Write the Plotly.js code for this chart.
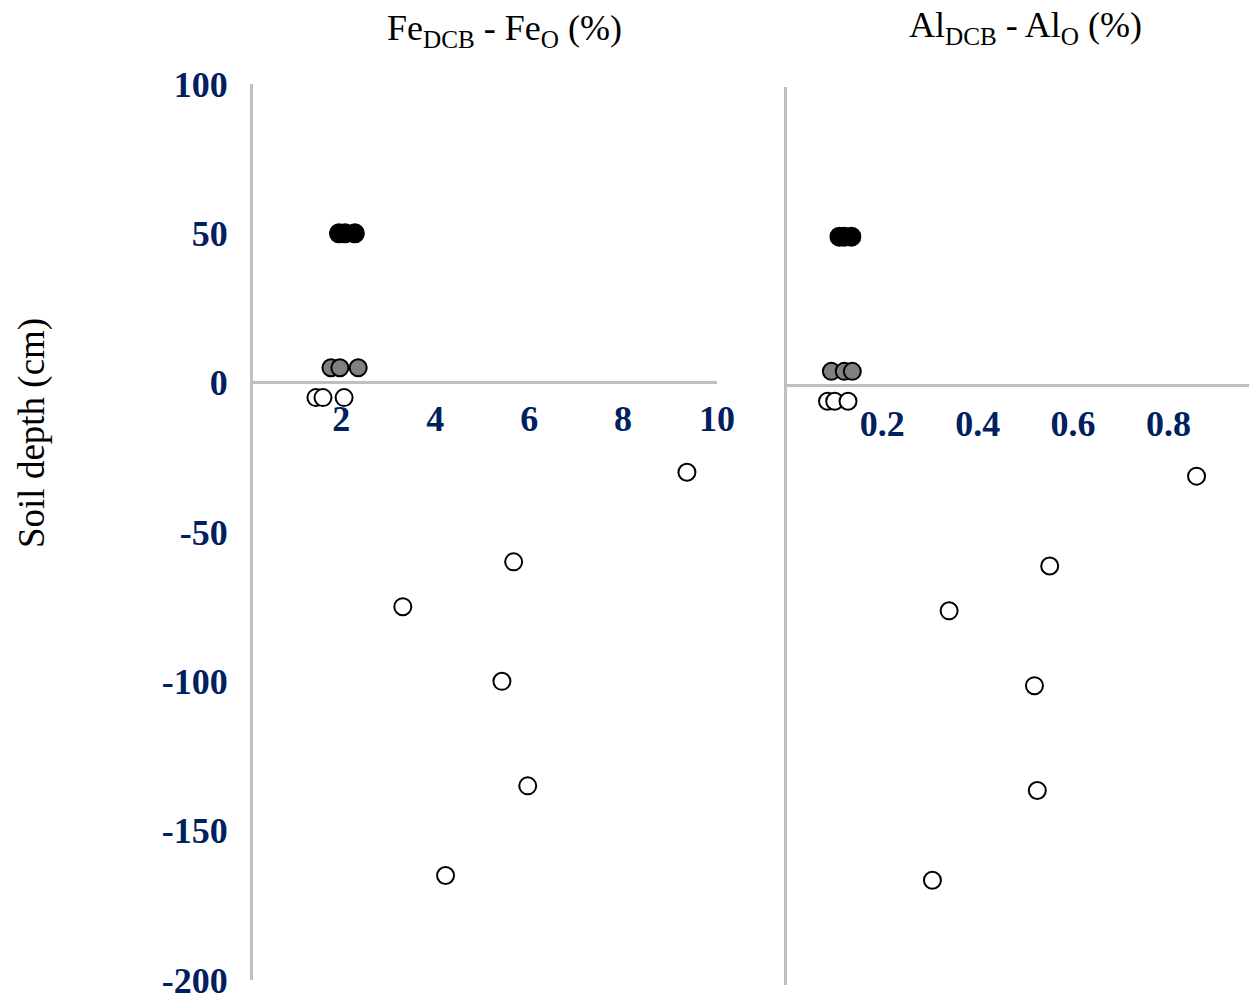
<!DOCTYPE html>
<html>
<head>
<meta charset="utf-8">
<script src="https://cdn.plot.ly/plotly-3.0.1.min.js"></script>
<style>html,body{margin:0;padding:0;background:#fff;}#chart{width:1249px;height:1002px;}</style>
</head>
<body>
<div id="chart"></div>
<script>
// Depths (cm)
const depthTop = [50, 50, 50];
const depthMid = [5, 5, 5];
const depthLow = [-5, -5, -5, -30, -60, -75, -100, -135, -165];

// Fe_DCB - Fe_O (%)
const feTop = [1.95, 2.08, 2.29];
const feMid = [1.78, 1.97, 2.36];
const feLow = [1.46, 1.61, 2.06, 9.36, 5.67, 3.31, 5.42, 5.97, 4.22];

// Al_DCB - Al_O (%)
const alTop = [0.11, 0.12, 0.135];
const alMid = [0.093, 0.12, 0.137];
const alLow = [0.085, 0.10, 0.128, 0.859, 0.551, 0.340, 0.519, 0.525, 0.305];

// Tick labels
const yTicks = [-200, -150, -100, -50, 0, 50, 100];
const yTickText = ['-200', '-150', '-100', '-50', '0', '50', '100'];
const feTicks = [2, 4, 6, 8, 10];
const alTicks = [0.2, 0.4, 0.6, 0.8];
const alTickText = ['0.2', '0.4', '0.6', '0.8'];

const W = 1249, H = 1002;
const px = v => v / W;
const py = v => (H - v) / H;

function mk(x, y, xa, ya, fill, size) {
  return {
    x: x, y: y, xaxis: xa, yaxis: ya, type: 'scatter', mode: 'markers',
    showlegend: false, hoverinfo: 'x+y', cliponaxis: false,
    marker: {symbol: 'circle', size: size, color: fill, line: {color: '#000', width: 2}}
  };
}

const data = [
  mk(feTop, depthTop, 'x', 'y', '#000000', 18),
  mk(feMid, depthMid, 'x', 'y', '#808080', 17),
  mk(feLow, depthLow, 'x', 'y', '#ffffff', 17),
  mk(alTop, depthTop, 'x2', 'y2', '#000000', 18),
  mk(alMid, depthMid, 'x2', 'y2', '#808080', 17),
  mk(alLow, depthLow, 'x2', 'y2', '#ffffff', 17)
];

const serif = 'Liberation Serif, Times New Roman, serif';
const tickFont = {family: serif, size: 36, color: '#002060', weight: 'bold'};
const lineCol = '#bfbfbf';

const layout = {
  width: W, height: H,
  margin: {l: 0, r: 0, t: 0, b: 0, pad: 0},
  paper_bgcolor: '#ffffff', plot_bgcolor: 'rgba(0,0,0,0)',
  showlegend: false,
  xaxis: {
    domain: [px(253), px(717)], range: [0.12, 10.0],
    anchor: 'free', position: py(382),
    showline: true, linecolor: lineCol, linewidth: 3,
    showgrid: false, zeroline: false,
    tickmode: 'array', tickvals: feTicks, ticktext: feTicks.map(String),
    ticks: '', ticklabelstandoff: 4, tickfont: tickFont
  },
  yaxis: {
    domain: [py(980), py(84)], range: [-200, 100],
    anchor: 'x', showline: true, linecolor: lineCol, linewidth: 3,
    showgrid: false, zeroline: false,
    tickmode: 'array', tickvals: yTicks, ticktext: yTickText,
    ticks: '', ticklabelstandoff: 15, tickfont: tickFont
  },
  xaxis2: {
    domain: [px(787), 1], range: [0, 0.969],
    anchor: 'free', position: py(385),
    showline: true, linecolor: lineCol, linewidth: 3,
    showgrid: false, zeroline: false,
    tickmode: 'array', tickvals: alTicks, ticktext: alTickText,
    ticks: '', ticklabelstandoff: 6, tickfont: tickFont
  },
  yaxis2: {
    domain: [py(985), py(87)], range: [-200, 100],
    anchor: 'x2', showline: true, linecolor: lineCol, linewidth: 3,
    showgrid: false, zeroline: false, showticklabels: false, ticks: ''
  },
  annotations: [
    {text: 'Fe<sub>DCB</sub> - Fe<sub>O</sub> (%)', xref: 'paper', yref: 'paper',
     x: px(504), y: py(30), xanchor: 'center', yanchor: 'middle', showarrow: false,
     font: {family: serif, size: 36, color: '#000'}},
    {text: 'Al<sub>DCB</sub> - Al<sub>O</sub> (%)', xref: 'paper', yref: 'paper',
     x: px(1025), y: py(28), xanchor: 'center', yanchor: 'middle', showarrow: false,
     font: {family: serif, size: 36, color: '#000'}},
    {text: 'Soil depth (cm)', xref: 'paper', yref: 'paper',
     x: px(32), y: py(433), xanchor: 'center', yanchor: 'middle', showarrow: false, textangle: -90,
     font: {family: serif, size: 37, color: '#000'}}
  ]
};

Plotly.newPlot('chart', data, layout, {displayModeBar: false, staticPlot: true});
</script>
</body>
</html>
